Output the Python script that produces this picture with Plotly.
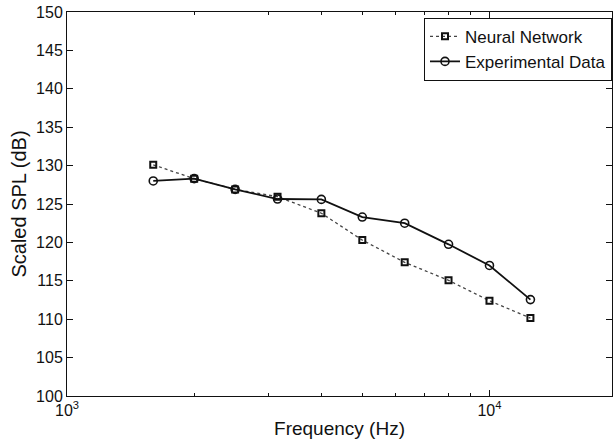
import plotly.graph_objects as go

freq = [1600, 2000, 2500, 3150, 4000, 5000, 6300, 8000, 10000, 12500]
neural = [130.1, 128.3, 126.9, 125.95, 123.8, 120.3, 117.4, 115.06, 112.4, 110.15]
experimental = [128.0, 128.3, 126.9, 125.65, 125.6, 123.3, 122.5, 119.75, 117.0, 112.55]

y_ticks = list(range(100, 151, 5))
x_major = [1000, 10000]
x_major_text = ["10<sup>3</sup>", "10<sup>4</sup>"]
x_minor = [2000, 3000, 4000, 5000, 6000, 7000, 8000, 9000]

font = "Liberation Sans, Arial, sans-serif"

fig = go.Figure()
fig.add_trace(go.Scatter(
    x=freq, y=neural, name="Neural Network", mode="lines+markers",
    line=dict(color="#444444", width=1.3, dash="dot"),
    marker=dict(symbol="square-open", size=6, color="#111111", line=dict(width=2)),
))
fig.add_trace(go.Scatter(
    x=freq, y=experimental, name="Experimental Data", mode="lines+markers",
    line=dict(color="#111111", width=1.8),
    marker=dict(symbol="circle-open", size=8, color="#111111", line=dict(width=1.6)),
))

fig.update_layout(
    width=613, height=445,
    margin=dict(l=67, r=1, t=12, b=49),
    paper_bgcolor="white", plot_bgcolor="white",
    font=dict(family=font, size=16, color="#111111"),
    showlegend=True,
    legend=dict(x=1, xanchor="right", y=0.985, yanchor="top",
                bordercolor="#111111", borderwidth=1, bgcolor="white",
                font=dict(size=17), tracegroupgap=0, itemwidth=30),
)
fig.update_xaxes(
    type="log", range=[3, 4.29],
    tickvals=x_major, ticktext=x_major_text,
    ticks="inside", ticklen=6, tickcolor="#111111",
    showline=True, linecolor="#111111", linewidth=1, mirror="ticks",
    showgrid=False, zeroline=False,
    minor=dict(tickvals=x_minor, ticks="inside", ticklen=3, tickcolor="#111111"),
    title=dict(text="Frequency (Hz)", font=dict(size=19), standoff=3),
    tickfont=dict(size=16),
)
fig.update_yaxes(
    range=[100, 150], tickvals=y_ticks,
    ticks="inside", ticklen=6, tickcolor="#111111",
    showline=True, linecolor="#111111", linewidth=1, mirror="ticks",
    showgrid=False, zeroline=False,
    title=dict(text="Scaled SPL (dB)", font=dict(size=20), standoff=4),
    tickfont=dict(size=16),
)

fig.write_html("out.html")
